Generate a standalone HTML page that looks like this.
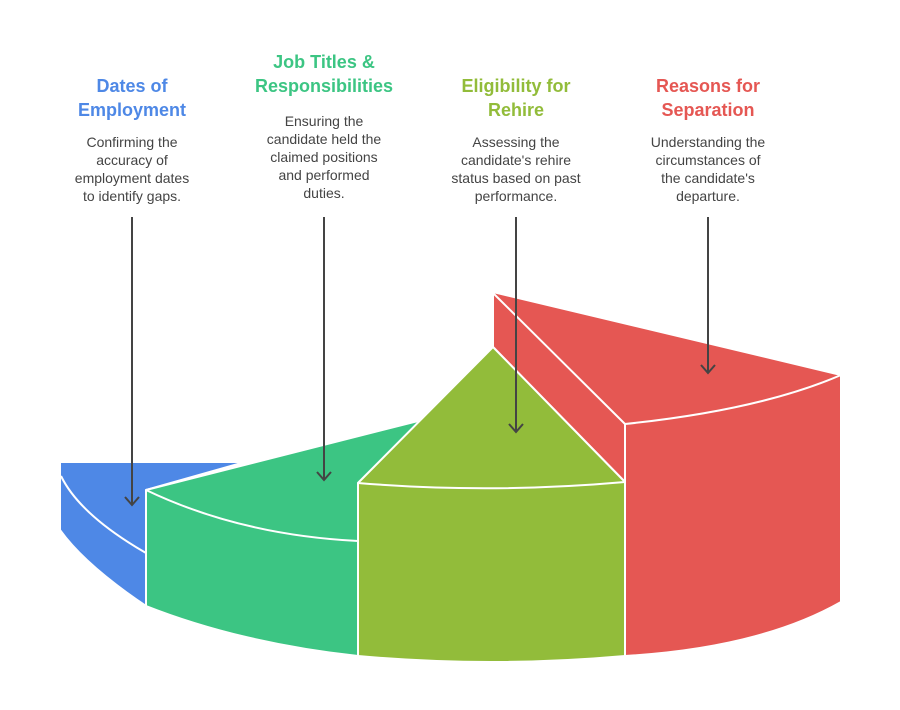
<!DOCTYPE html>
<html><head><meta charset="utf-8"><style>
html,body{margin:0;padding:0;background:#fff;}
svg{display:block;font-family:"Liberation Sans",Arial,sans-serif;}
.t{font-size:18px;font-weight:bold;text-anchor:middle;}
.d{font-size:14px;fill:#444;text-anchor:middle;}
</style></head><body>
<svg width="900" height="710" viewBox="0 0 900 710" xmlns="http://www.w3.org/2000/svg">
<g stroke="#fff" stroke-width="2" stroke-linejoin="round">
<path d="M60,462 L245,462 L146,490 L146,606 Q85,565 60,530 Z" fill="#4E88E6"/>
<path d="M61,476 Q80,515 146,553" fill="none"/>
<path d="M146,490 L422,420 L358,483 L358,656 Q240,643 146,606 Z" fill="#3CC583"/>
<path d="M146,490 Q240,535 358,541" fill="none"/>
<path d="M493,292 L841,375 L841,602 Q760,648 625,656 L625,482 L493,347 Z" fill="#E55753"/>
<path d="M493,293 L625,424 Q760,410 841,375" fill="none"/>
<path d="M625,424 L625,482" fill="none"/>
<path d="M493,347 L625,482 L625,656 Q490,668 358,656 L358,483 Z" fill="#92BC3A"/>
<path d="M358,483 Q490,494 625,482" fill="none"/>
</g>
<g stroke="#444" stroke-width="2" fill="none">
<path d="M132,217 V505 M125,497 L132,505 L139,497"/>
<path d="M324,217 V480 M317,472 L324,480 L331,472"/>
<path d="M516,217 V432 M509,424 L516,432 L523,424"/>
<path d="M708,217 V373 M701,365 L708,373 L715,365"/>
</g>
<text class="t" fill="#4E88E6"><tspan x="132" y="92">Dates of</tspan><tspan x="132" y="116">Employment</tspan></text>
<text class="d"><tspan x="132" y="147">Confirming the</tspan><tspan x="132" y="165">accuracy of</tspan><tspan x="132" y="183">employment dates</tspan><tspan x="132" y="201">to identify gaps.</tspan></text>
<text class="t" fill="#3CC583"><tspan x="324" y="68">Job Titles &amp;</tspan><tspan x="324" y="92">Responsibilities</tspan></text>
<text class="d"><tspan x="324" y="126">Ensuring the</tspan><tspan x="324" y="144">candidate held the</tspan><tspan x="324" y="162">claimed positions</tspan><tspan x="324" y="180">and performed</tspan><tspan x="324" y="198">duties.</tspan></text>
<text class="t" fill="#92BC3A"><tspan x="516" y="92">Eligibility for</tspan><tspan x="516" y="116">Rehire</tspan></text>
<text class="d"><tspan x="516" y="147">Assessing the</tspan><tspan x="516" y="165">candidate's rehire</tspan><tspan x="516" y="183">status based on past</tspan><tspan x="516" y="201">performance.</tspan></text>
<text class="t" fill="#E55753"><tspan x="708" y="92">Reasons for</tspan><tspan x="708" y="116">Separation</tspan></text>
<text class="d"><tspan x="708" y="147">Understanding the</tspan><tspan x="708" y="165">circumstances of</tspan><tspan x="708" y="183">the candidate's</tspan><tspan x="708" y="201">departure.</tspan></text>
</svg>
</body></html>
